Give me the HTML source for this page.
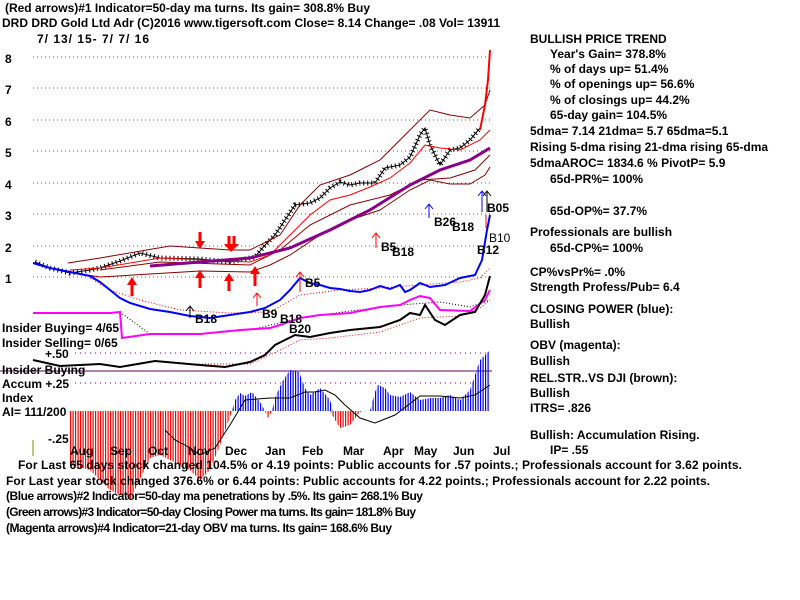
<!DOCTYPE html>
<html><head><meta charset="utf-8"><style>
html,body{margin:0;padding:0;background:#fff}
svg{display:block}
text{font-family:"Liberation Sans",Arial,sans-serif;font-weight:bold;font-size:12px;fill:#000}
</style></head><body>
<svg width="800" height="600" viewBox="0 0 800 600" xmlns="http://www.w3.org/2000/svg">
<defs>
<pattern id="pr" width="2.5" height="4" patternUnits="userSpaceOnUse"><rect width="1.2" height="4" fill="#f00"/></pattern>
<pattern id="pb" width="2.5" height="4" patternUnits="userSpaceOnUse"><rect width="1.2" height="4" fill="#00f"/></pattern>
</defs>
<rect width="800" height="600" fill="#fff"/>
<g stroke="#0a0" stroke-dasharray="1,3" stroke-width="1">
<line x1="33" y1="57" x2="490" y2="57"/><line x1="33" y1="88" x2="490" y2="88"/>
<line x1="33" y1="120" x2="490" y2="120"/><line x1="33" y1="151" x2="490" y2="151"/>
<line x1="33" y1="183" x2="490" y2="183"/><line x1="33" y1="214" x2="490" y2="214"/>
<line x1="33" y1="246" x2="490" y2="246"/><line x1="33" y1="277" x2="490" y2="277"/>
</g>
<g stroke="#808" stroke-dasharray="1,4"><line x1="75" y1="353" x2="490" y2="353"/><line x1="75" y1="383" x2="490" y2="383"/></g>
<line x1="0" y1="371" x2="492" y2="371" stroke="#606" stroke-width="1"/>
<line x1="33" y1="440" x2="33" y2="456" stroke="#880" stroke-width="1"/>
<polygon fill="url(#pr)" points="70,411 232,411 220,445 210,470 200,480 190,470 170,460 160,455 150,458 130,500 110,490 90,470 70,465"/>
<polygon fill="url(#pr)" points="330,411 362,411 360,412 350,425 340,428 335,420"/>
<polygon fill="url(#pr)" points="265,411 272,411 268,418"/>
<polygon fill="url(#pb)" points="232,411 235,400 240,393 245,396 252,392 260,402 265,411 272,411 275,398 282,382 290,370 299,372 305,388 310,395 320,388 330,400 333,411 362,411 365,411 370,411 375,392 378,385 385,388 390,395 400,397 410,392 420,400 430,398 440,398 450,395 460,400 470,390 475,375 480,360 485,355 490,350 490,411"/>
<g fill="none">
<polyline stroke="#000" stroke-width="5" stroke-dasharray="1,3" points="35,262 50,268 70,273 90,270 100,268 120,261 140,253 160,258 200,259 230,262 255,257 265,245 275,235 285,220 295,205 310,203 320,198 330,188 340,182 350,185 360,183 375,183 385,168 400,165 410,157 420,135 425,128 430,145 440,165 450,150 460,148 470,140 480,128"/>
<polyline stroke="#000" stroke-width="1" points="35,262 50,268 70,273 90,270 100,268 120,261 140,253 160,258 200,259 230,262 255,257 265,245 275,235 285,220 295,205 310,203 320,198 330,188 340,182 350,185 360,183 375,183 385,168 400,165 410,157 420,135 425,128 430,145 440,165 450,150 460,148 470,140 480,128"/>
<polyline stroke="#800" points="68,263 100,258 170,246 230,250 250,250 280,235 300,205 320,185 350,175 380,160 410,130 430,110 450,115 470,118 485,105 490,90"/>
<polyline stroke="#800" points="68,272 100,277 200,271 250,272 270,265 290,255 320,235 350,220 380,210 410,190 430,180 450,184 470,184 485,175 490,167"/>
<polyline stroke="#800" points="100,270 160,262 250,265 280,250 310,225 350,205 390,195 420,180 450,178 475,170 490,155"/>
<polyline stroke="#f00" points="70,270 100,268 160,258 250,262 270,255 290,235 310,215 330,200 350,195 370,187 390,178 410,163 425,145 440,148 460,150 480,140 490,130"/>
<polyline stroke="#808" stroke-width="3" points="150,266 200,262 250,258 290,248 330,230 370,210 410,185 440,170 470,160 490,148"/>
<polyline stroke="#f00" stroke-width="2" points="480,130 485,105 488,80 490,50"/>
<polyline stroke="#f00" stroke-dasharray="1,2" points="90,278 110,290 140,300 180,310 230,313 270,312 300,295 340,290 380,288 420,285 460,282 480,278 490,268"/>
<polyline stroke="#00f" stroke-width="2" points="33,263 50,268 70,272 90,276 100,282 110,290 120,298 130,303 150,309 170,312 190,316 210,318 230,315 250,312 265,308 280,300 290,290 300,278 310,283 320,285 330,288 340,289 350,291 360,292 370,290 380,286 390,289 400,285 405,292 410,290 420,283 430,287 445,285 460,278 475,275 482,260 487,230 490,215"/>
<polyline stroke="#000" stroke-dasharray="1,2" points="120,312 150,334 200,334 250,330 300,318 350,311 400,305 440,302 470,307 490,300"/>
<polyline stroke="#f0f" stroke-width="2" points="33,313 110,313 120,312 122,338 150,334 200,334 240,330 270,328 280,325 300,318 320,315 350,313 380,307 400,305 410,300 420,296 430,298 440,310 470,311 485,300 490,290"/>
<polyline stroke="#f00" stroke-dasharray="1,2" points="190,364 250,364 280,350 300,340 330,338 380,332 420,318 460,316 480,308 490,300"/>
<polyline stroke="#000" stroke-width="2" points="33,360 60,366 100,364 120,367 155,361 200,365 225,367 250,362 265,355 275,345 285,340 295,335 310,337 330,333 350,330 380,327 400,320 410,313 420,315 425,305 435,320 445,325 460,315 475,312 485,295 490,276"/>
<polyline stroke="#000" points="165,430 175,440 185,445 200,455 215,448 230,425 245,400 270,398 290,398 305,392 315,392 325,390 335,395 345,405 360,418 375,423 395,415 420,396 440,396 460,398 475,395 490,385"/>
</g>
<g stroke="#f00" stroke-width="3" fill="none">
<line x1="132" y1="296" x2="132" y2="283"/><line x1="200" y1="288" x2="200" y2="276"/><line x1="229" y1="291" x2="229" y2="279"/><line x1="255" y1="286" x2="255" y2="272"/>
<line x1="200" y1="232" x2="200" y2="244"/><line x1="229" y1="236" x2="229" y2="247"/><line x1="234" y1="236" x2="234" y2="247"/>
</g>
<g fill="#f00"><polygon points="127,285 137,285 132,277"/><polygon points="195,278 205,278 200,270"/><polygon points="224,281 234,281 229,273"/><polygon points="250,274 260,274 255,266"/>
<polygon points="195,241 205,241 200,249"/><polygon points="224,244 239,244 231,252"/></g>
<g stroke-width="1" fill="none">
<path d="M300,292V273M296,277L300,272L304,277" stroke="#f00"/><path d="M376,248V234M372,238L376,233L380,238" stroke="#f00"/>
<path d="M257,306V294M253,298L257,293L261,298" stroke="#f00"/><path d="M190,318V307M186,311L190,306L194,311" stroke="#000"/>
<path d="M429,218V205M425,209L429,204L433,209" stroke="#00f"/><path d="M482,212V192M478,196L482,191L486,196" stroke="#00f"/>
<path d="M487,212V192M483,196L487,191L491,196" stroke="#000"/><path d="M486,228V215" stroke="#f00"/>
</g>
<text x="195" y="323">B18</text><text x="262" y="318">B9</text><text x="280" y="323">B18</text><text x="289" y="333" font-size="14">B20</text>
<text x="305" y="287">B5</text><text x="381" y="251">B5</text><text x="392" y="256">B18</text><text x="434" y="226">B26</text><text x="452" y="231">B18</text>
<text x="487" y="212">B05</text><text x="489" y="242" font-size="17" style="font-weight:normal">B10</text><text x="477" y="254" font-size="19">B12</text>
<g font-size="12">
<text x="5" y="12" textLength="365">(Red arrows)#1 Indicator=50-day ma turns.  Its gain= 308.8% Buy</text>
<text x="2" y="27" textLength="498">DRD   DRD Gold Ltd Adr  (C)2016 www.tigersoft.com     Close=  8.14   Change= .08 Vol= 13911</text>
<text x="37" y="43" textLength="112">7/ 13/ 15- 7/ 7/ 16</text>
<text x="5" y="63">8</text><text x="5" y="94">7</text><text x="5" y="126">6</text><text x="5" y="157">5</text><text x="5" y="189">4</text><text x="5" y="220">3</text><text x="5" y="252">2</text><text x="5" y="283">1</text>
<text x="2" y="332">Insider Buying= 4/65</text><text x="2" y="347">Insider Selling= 0/65</text>
<text x="45" y="358">+.50</text><text x="2" y="374">Insider Buying</text><text x="2" y="388">Accum  +.25</text><text x="2" y="402">Index</text><text x="2" y="416">AI= 111/200</text><text x="48" y="443">-.25</text>
<text x="70" y="455">Aug</text><text x="110" y="455">Sep</text><text x="148" y="455">Oct</text><text x="188" y="455">Nov</text><text x="225" y="455">Dec</text><text x="265" y="455">Jan</text><text x="302" y="455">Feb</text><text x="343" y="455">Mar</text><text x="383" y="455">Apr</text><text x="414" y="455">May</text><text x="453" y="455">Jun</text><text x="493" y="455">Jul</text>
<text x="18" y="469" textLength="724">For Last 65 days stock changed  104.5% or  4.19 points:  Public accounts for  .57 points.;  Professionals account for  3.62 points.</text>
<text x="6" y="485" textLength="704">For Last year stock changed  376.6% or  6.44 points:  Public accounts for  4.22 points.;  Professionals account for  2.22 points.</text>
<text x="6" y="500" font-size="11" textLength="417">(Blue arrows)#2 Indicator=50-day ma penetrations by .5%. Its gain= 268.1% Buy</text>
<text x="6" y="516" font-size="11" textLength="410">(Green arrows)#3 Indicator=50-day Closing Power ma turns. Its gain= 181.8% Buy</text>
<text x="6" y="532" font-size="11" textLength="386">(Magenta arrows)#4 Indicator=21-day OBV ma turns. Its gain= 168.6% Buy</text>
<text x="530" y="43">BULLISH PRICE TREND</text>
<text x="550" y="58">Year's Gain= 378.8%</text><text x="550" y="73">% of days up= 51.4%</text><text x="550" y="88">% of openings up= 56.6%</text><text x="550" y="104">% of closings up= 44.2%</text><text x="550" y="119">65-day gain= 104.5%</text>
<text x="530" y="135">5dma= 7.14 21dma= 5.7 65dma=5.1</text><text x="530" y="151">Rising 5-dma rising 21-dma rising 65-dma</text><text x="530" y="167">5dmaAROC=  1834.6 %  PivotP= 5.9</text>
<text x="550" y="183">65d-PR%= 100%</text><text x="550" y="215">65d-OP%= 37.7%</text><text x="530" y="236">Professionals are bullish</text><text x="550" y="252">65d-CP%= 100%</text>
<text x="530" y="276">CP%vsPr%= .0%</text><text x="530" y="291">Strength Profess/Pub= 6.4</text><text x="530" y="313">CLOSING POWER (blue):</text><text x="530" y="328">Bullish</text>
<text x="530" y="349">OBV (magenta):</text><text x="530" y="365">Bullish</text><text x="530" y="382">REL.STR..VS DJI (brown):</text><text x="530" y="397">Bullish</text><text x="530" y="412">ITRS= .826</text>
<text x="530" y="439">Bullish: Accumulation Rising.</text><text x="550" y="454">IP= .55</text>
</g>
</svg>
</body></html>
